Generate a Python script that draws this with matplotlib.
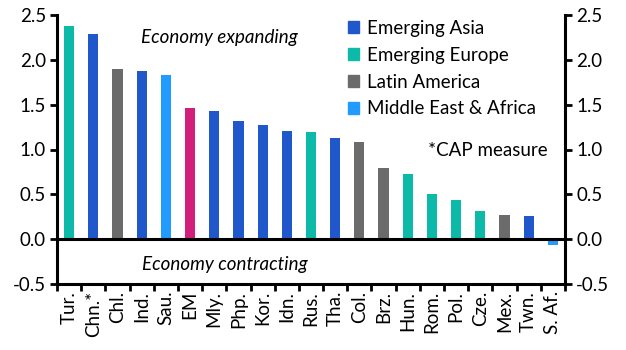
import matplotlib
matplotlib.use("Agg")
import matplotlib.pyplot as plt
import numpy as np
from matplotlib.patches import Patch

plt.rcParams['font.family'] = ['Lato', 'DejaVu Sans']

countries = ["Tur.", "Chn.*", "Chl.", "Ind.", "Sau.", "EM", "Mly.", "Php.", "Kor.", "Idn.",
             "Rus.", "Tha.", "Col.", "Brz.", "Hun.", "Rom.", "Pol.", "Cze.", "Mex.", "Twn.", "S. Af."]
values = [2.38, 2.29, 1.90, 1.875, 1.83, 1.46, 1.43, 1.32, 1.27, 1.21,
          1.19, 1.13, 1.08, 0.79, 0.725, 0.50, 0.435, 0.31, 0.27, 0.26, -0.06]
regions = ["EU", "AS", "LA", "AS", "MEA", "EM", "AS", "AS", "AS", "AS",
           "EU", "AS", "LA", "LA", "EU", "EU", "EU", "EU", "LA", "AS", "MEA"]

colors = {"AS": "#2058cc", "EU": "#0db9a9", "LA": "#6b6b6b", "MEA": "#229bff", "EM": "#d31f7c"}
legend_labels = [("AS", "Emerging Asia"), ("EU", "Emerging Europe"),
                 ("LA", "Latin America"), ("MEA", "Middle East & Africa")]

FS = 13.5
fig = plt.figure(figsize=(6.26, 3.5), dpi=100)
ax = fig.add_axes([57/626, 1-284/350, (565-57)/626, (284-15)/350])

n = len(countries)
x = np.arange(n)
ax.bar(x, values, width=0.42, color=[colors[r] for r in regions], zorder=2)

ax.set_xlim(-0.5, n - 0.5)
ax.set_ylim(-0.5, 2.5)
ax.axhline(0, color="black", lw=2.2, zorder=3)

yt = np.arange(-0.5, 2.51, 0.5)
ax.set_yticks(yt)
ax.set_yticklabels([f"{v:.1f}" for v in yt])
ax.set_xticks(x)
ax.set_xticklabels(countries, rotation=90, fontsize=FS)
ax.set_xticks(np.arange(-0.5, n, 1.0), minor=True)
ax.tick_params(axis='x', which='major', length=0, pad=5)
ax.tick_params(axis='x', which='minor', length=5, width=2, direction='out')
ax.tick_params(axis='y', length=5, width=2, direction='out', labelsize=FS, pad=3,
               right=True, labelright=True)

ax.spines["top"].set_visible(False)
for s in ["left", "right", "bottom"]:
    ax.spines[s].set_linewidth(2.2)

ax.text(0.319, 0.918, "Economy expanding", transform=ax.transAxes, style='italic',
        fontsize=FS, ha='center', va='center')
ax.text(0.331, 0.071, "Economy contracting", transform=ax.transAxes, style='italic',
        fontsize=FS, ha='center', va='center')
ax.text(0.966, 0.498, "*CAP measure", transform=ax.transAxes, fontsize=FS,
        ha='right', va='center')

handles = [Patch(color=colors[k], label=l) for k, l in legend_labels]
ax.legend(handles=handles, loc='upper left', bbox_to_anchor=((348-57)/508, (284-20)/269),
          frameon=False, fontsize=FS, handlelength=0.6, handleheight=0.6, handletextpad=0.4,
          labelspacing=0.52, borderaxespad=0, borderpad=0)

fig.savefig("out.png", dpi=100)
